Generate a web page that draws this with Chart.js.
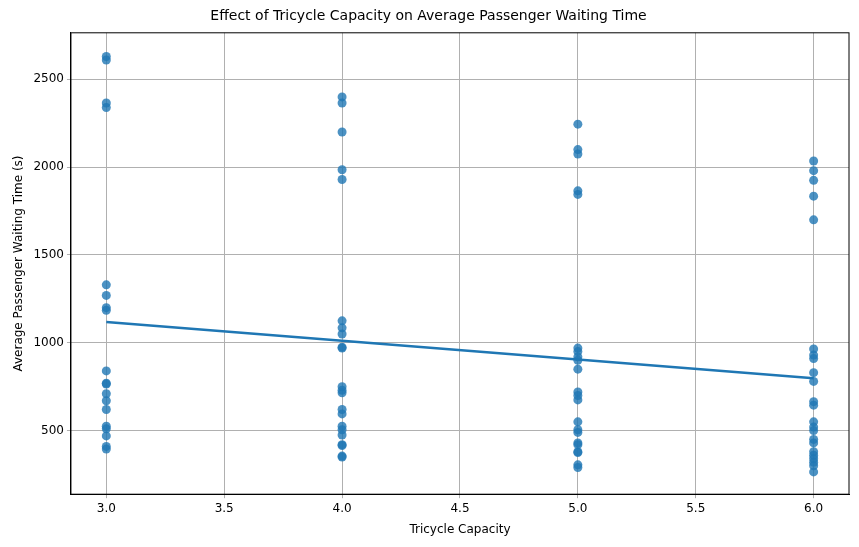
<!DOCTYPE html>
<html>
<head>
<meta charset="utf-8">
<script src="https://cdn.jsdelivr.net/npm/chart.js@4"></script>
<style>
  body { margin: 0; background: #fff; }
  #wrap { width: 859px; height: 547px; }
</style>
</head>
<body>
<div id="wrap"><canvas id="chart"></canvas></div>
<script>
'use strict'

// waiting times (s), one array per capacity
const capacities = [3, 4, 5, 6]
const wait3 = [2630, 2610, 2365, 2340, 1330, 1270, 1200, 1185, 840, 770, 765, 710, 670, 620, 525, 510, 470, 410, 395]
const wait4 = [2400, 2365, 2200, 1985, 1930, 1125, 1085, 1050, 975, 970, 750, 730, 715, 620, 595, 525, 505, 475, 420, 415, 355, 350]
const wait5 = [2245, 2100, 2075, 1865, 1845, 970, 950, 920, 900, 850, 720, 700, 675, 550, 505, 490, 430, 420, 380, 375, 305, 290]
const wait6 = [2035, 1980, 1925, 1835, 1700, 965, 930, 910, 830, 780, 665, 645, 550, 520, 500, 450, 430, 380, 360, 340, 320, 300, 265]
const trendX = [3, 6]
const trendY = [1118, 798]
const yTicks = [500, 1000, 1500, 2000, 2500]

const allWaits = [wait3, wait4, wait5, wait6]
const scatterPts = []
capacities.forEach((c, i) => {
  allWaits[i].forEach(w => scatterPts.push({ x: c, y: w }))
})

const font = { family: 'DejaVu Sans', size: 12 }
Chart.defaults.font = font
Chart.defaults.color = '#000'

// draws the full black frame round the plot area
const frame = {
  id: 'frame',
  afterDraw: chart => {
    const a = chart.chartArea
    const c = chart.ctx
    c.save()
    c.strokeStyle = '#000'
    c.lineWidth = 1
    c.strokeRect(a.left, a.top, a.right - a.left, a.bottom - a.top)
    c.restore()
  }
}

const ctx = document.getElementById('chart')
new Chart(ctx, {
  data: {
    datasets: [{
      type: 'scatter',
      data: scatterPts,
      backgroundColor: 'rgba(31,119,180,0.8)',
      borderWidth: 0,
      pointRadius: 4.5,
      pointHoverRadius: 4.5
    }, {
      type: 'line',
      data: trendX.map((x, i) => ({ x: x, y: trendY[i] })),
      borderColor: '#1f77b4',
      borderWidth: 2.5,
      pointRadius: 0,
      fill: false
    }]
  },
  options: {
    responsive: true,
    maintainAspectRatio: false,
    animation: false,
    layout: { padding: { left: 8, right: 10, top: 4, bottom: 6 } },
    plugins: {
      legend: { display: false },
      tooltip: { enabled: false },
      title: {
        display: true,
        text: 'Effect of Tricycle Capacity on Average Passenger Waiting Time',
        font: { family: 'DejaVu Sans', size: 14, weight: 'normal' },
        padding: { top: 4, bottom: 8 }
      }
    },
    scales: {
      x: {
        type: 'linear',
        min: 2.85,
        max: 6.15,
        afterBuildTicks: axis => {
          axis.ticks = [3, 3.5, 4, 4.5, 5, 5.5, 6].map(v => ({ value: v }))
        },
        ticks: { callback: v => v.toFixed(1), font: font },
        grid: { color: '#b0b0b0', tickLength: 4 },
        border: { color: '#000' },
        title: { display: true, text: 'Tricycle Capacity', font: font }
      },
      y: {
        min: 138,
        max: 2765,
        afterBuildTicks: axis => {
          axis.ticks = yTicks.map(v => ({ value: v }))
        },
        ticks: { callback: v => String(v), font: font },
        grid: { color: '#b0b0b0', tickLength: 4 },
        border: { color: '#000' },
        title: { display: true, text: 'Average Passenger Waiting Time (s)', font: font }
      }
    }
  },
  plugins: [frame]
})
</script>
</body>
</html>
